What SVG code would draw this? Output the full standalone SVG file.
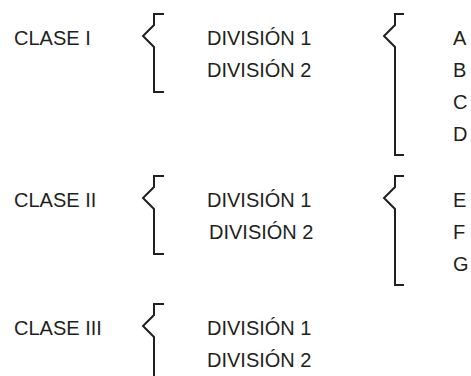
<svg xmlns="http://www.w3.org/2000/svg" width="471" height="376" viewBox="0 0 471 376">
<style>
text{font-family:"Liberation Sans",Arial,sans-serif;font-size:20px;fill:#231f20}
.br{fill:none;stroke:#231f20;stroke-width:2}
</style>
<rect width="471" height="376" fill="#fff"/>
<g id="connectors">
<path class="br" d="M164,14 H154 V25 L143,36 L154,47 V92 H164"/>
<path class="br" d="M404,14 H395 V25 L384,36 L395,47 V155 H404"/>
<path class="br" d="M164,176 H154 V187 L143,198 L154,209 V254 H164"/>
<path class="br" d="M404,176 H395 V187 L384,198 L395,209 V285 H404"/>
<path class="br" d="M164,304 H154 V315 L143,326 L154,337 V380"/>
</g>
<g id="clase1"><text x="14" y="45">CLASE I</text></g>
<g id="clase1-div"><text x="207" y="45">DIVISIÓN 1</text><text x="207" y="77">DIVISIÓN 2</text></g>
<g id="letters1"><text x="453" y="45">A</text><text x="453" y="77">B</text><text x="453" y="109">C</text><text x="453" y="141">D</text></g>
<g id="clase2"><text x="14" y="207">CLASE II</text></g>
<g id="clase2-div"><text x="207" y="207">DIVISIÓN 1</text><text x="209" y="239">DIVISIÓN 2</text></g>
<g id="letters2"><text x="453" y="207">E</text><text x="453" y="239">F</text><text x="453" y="271">G</text></g>
<g id="clase3"><text x="14" y="335">CLASE III</text></g>
<g id="clase3-div"><text x="207" y="335">DIVISIÓN 1</text><text x="207" y="367">DIVISIÓN 2</text></g>
</svg>
